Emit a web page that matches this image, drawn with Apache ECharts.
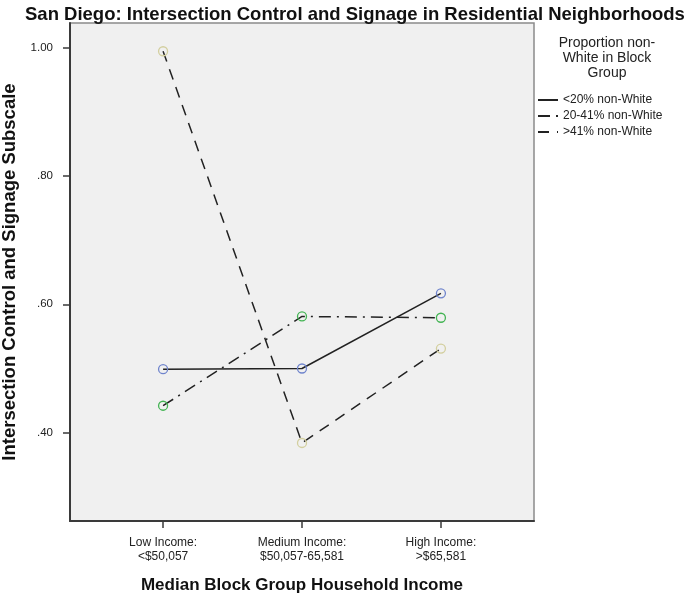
<!DOCTYPE html>
<html>
<head>
<meta charset="utf-8">
<script src="https://cdn.jsdelivr.net/npm/echarts@6/dist/echarts.min.js"></script>
<style>html,body{margin:0;padding:0;background:#fff;}#c{width:686px;height:600px;}</style>
</head>
<body>
<div id="c"></div>
<script>
var categories = ['Low Income:\n<$50,057', 'Medium Income:\n$50,057-65,581', 'High Income:\n>$65,581'];
var catPositions = [1, 2, 3];
var seriesNames = ['<20% non-White', '20-41% non-White', '>41% non-White'];
var under20 = [0.499, 0.500, 0.617];
var mid20to41 = [0.442, 0.581, 0.579];
var over41 = [0.994, 0.384, 0.531];
var yTickValues = [0.40, 0.60, 0.80, 1.00];
var yTickLabels = ['.40', '.60', '.80', '1.00'];

function pairs(vals) { return vals.map(function (v, i) { return [catPositions[i], v]; }); }

var font = 'Liberation Sans, Arial, sans-serif';
var markerColors = ['#6f84cc', '#43b453', '#d3cf9f'];
var dashes = ['solid', [12, 6, 2, 6], [11, 8]];
var datasets = [under20, mid20to41, over41];

var chart = echarts.init(document.getElementById('c'), null, {renderer: 'canvas'});
chart.setOption({
  animation: false,
  title: [{
    text: 'San Diego: Intersection Control and Signage in Residential Neighborhoods',
    left: 20, top: 0,
    textStyle: {fontFamily: font, fontSize: 18.5, fontWeight: 'bold', color: '#111'}
  }, {
    text: 'Proportion non-\nWhite in Block\nGroup',
    left: 602, top: 31, textAlign: 'center',
    textStyle: {fontFamily: font, fontSize: 14, fontWeight: 'normal', color: '#222', lineHeight: 15, align: 'center'}
  }],
  legend: {
    orient: 'vertical', left: 537, top: 94, padding: 0,
    itemWidth: 20, itemHeight: 10, itemGap: 4,
    data: seriesNames,
    itemStyle: {opacity: 0},
    textStyle: {fontFamily: font, fontSize: 12, color: '#222'}
  },
  grid: {left: 70, top: 23, right: 152, bottom: 79, show: true,
    backgroundColor: '#f0f0f0', borderColor: '#8a8a8a', borderWidth: 1.5,
    outerBoundsMode: 'none', containLabel: false},
  xAxis: {
    type: 'value', min: 0.33, max: 3.67,
    name: 'Median Block Group Household Income', nameLocation: 'middle', nameGap: 56,
    nameTextStyle: {fontFamily: font, fontSize: 17, fontWeight: 'bold', color: '#111'},
    axisLine: {show: true, lineStyle: {color: '#3a3a3a', width: 2}},
    axisTick: {show: true, length: 7, customValues: catPositions, lineStyle: {color: '#3a3a3a', width: 1.5}},
    axisLabel: {customValues: catPositions, margin: 15, fontFamily: font, fontSize: 12, color: '#222', lineHeight: 14,
      formatter: function (v) { var i = catPositions.indexOf(Math.round(v)); return i >= 0 ? categories[i] : ''; }},
    splitLine: {show: false}
  },
  yAxis: {
    type: 'value', min: 0.2625, max: 1.038,
    name: 'Intersection Control and Signage Subscale', nameLocation: 'middle', nameGap: 42,
    nameTextStyle: {fontFamily: font, fontSize: 18.5, fontWeight: 'bold', color: '#111'},
    axisLine: {show: true, lineStyle: {color: '#3a3a3a', width: 2}},
    axisTick: {show: true, length: 7, customValues: yTickValues, lineStyle: {color: '#3a3a3a', width: 1.5}},
    axisLabel: {customValues: yTickValues, margin: 17, fontFamily: font, fontSize: 11.5, color: '#222',
      formatter: function (v) { var i = yTickValues.findIndex(function (t) { return Math.abs(t - v) < 1e-6; }); return i >= 0 ? yTickLabels[i] : ''; }},
    splitLine: {show: false}
  },
  series: datasets.map(function (d, k) {
    return {
      name: seriesNames[k], type: 'line', data: pairs(d),
      symbol: 'circle', symbolSize: 9,
      lineStyle: {color: '#222', width: 1.5, type: dashes[k]},
      itemStyle: {color: 'rgba(0,0,0,0)', borderColor: markerColors[k], borderWidth: 1.3},
      z: 2
    };
  })
});
</script>
</body>
</html>
